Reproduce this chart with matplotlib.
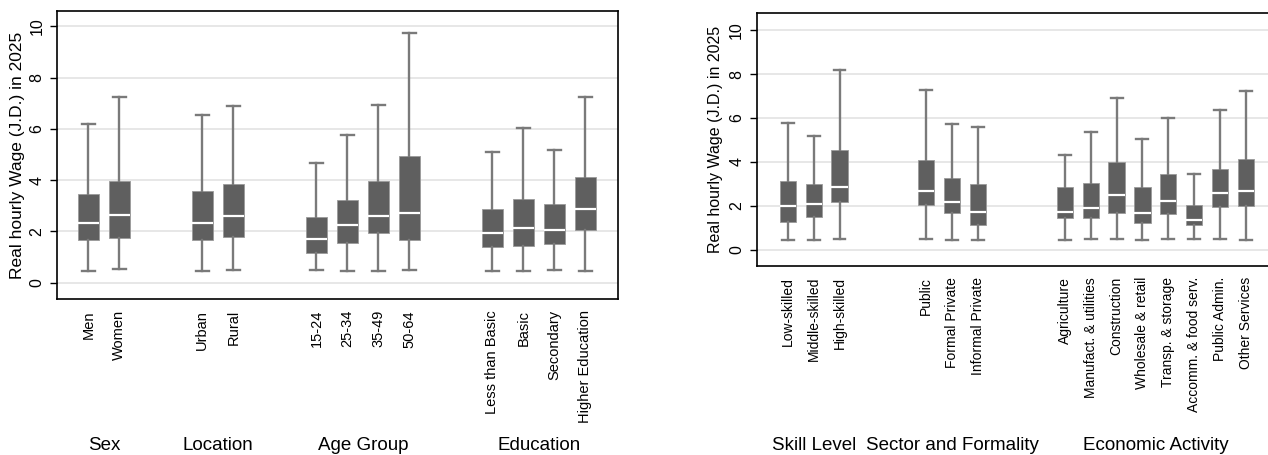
import numpy as np
import matplotlib
matplotlib.use('Agg')
import matplotlib.pyplot as plt
from matplotlib.transforms import blended_transform_factory

plt.rcParams['font.family'] = ['Liberation Sans', 'DejaVu Sans']

# ---- left panel data (whisker low, Q1, median, Q3, whisker high) ----
left_labels = ['Men', 'Women', 'Urban', 'Rural', '15-24', '25-34', '35-49', '50-64',
               'Less than Basic', 'Basic', 'Secondary', 'Higher Education']
left_groups = ['Sex', 'Location', 'Age Group', 'Education']
left_group_sizes = [2, 2, 4, 4]
left_lo = [0.45, 0.52, 0.45, 0.50, 0.50, 0.46, 0.46, 0.50, 0.46, 0.46, 0.50, 0.46]
left_q1 = [1.67, 1.73, 1.67, 1.77, 1.15, 1.54, 1.93, 1.68, 1.39, 1.42, 1.50, 2.06]
left_med = [2.32, 2.64, 2.32, 2.60, 1.69, 2.23, 2.60, 2.70, 1.93, 2.14, 2.06, 2.87]
left_q3 = [3.45, 3.95, 3.59, 3.84, 2.55, 3.24, 3.95, 4.95, 2.88, 3.28, 3.06, 4.14]
left_hi = [6.19, 7.25, 6.54, 6.91, 4.66, 5.77, 6.93, 9.73, 5.10, 6.05, 5.18, 7.25]

# ---- right panel data ----
right_labels = ['Low-skilled', 'Middle-skilled', 'High-skilled',
                'Public', 'Formal Private', 'Informal Private',
                'Agriculture', 'Manufact. & utilities', 'Construction', 'Wholesale & retail',
                'Transp. & storage', 'Accomm. & food serv.', 'Public Admin.', 'Other Services']
right_groups = ['Skill Level', 'Sector and Formality', 'Economic Activity']
right_group_sizes = [3, 3, 8]
right_lo = [0.45, 0.45, 0.48, 0.48, 0.45, 0.45, 0.44, 0.48, 0.48, 0.44, 0.48, 0.48, 0.48, 0.45]
right_q1 = [1.29, 1.50, 2.17, 2.03, 1.70, 1.15, 1.44, 1.44, 1.67, 1.23, 1.65, 1.12, 1.94, 2.01]
right_med = [2.01, 2.08, 2.88, 2.68, 2.18, 1.73, 1.73, 1.92, 2.48, 1.70, 2.21, 1.35, 2.61, 2.68]
right_q3 = [3.14, 3.00, 4.56, 4.11, 3.27, 2.98, 2.86, 3.06, 4.00, 2.86, 3.45, 2.03, 3.70, 4.14]
right_hi = [5.77, 5.20, 8.18, 7.29, 5.73, 5.59, 4.32, 5.38, 6.92, 5.05, 6.02, 3.45, 6.36, 7.23]


def positions(sizes, gap):
    pos, x = [], 0.0
    for s in sizes:
        for _ in range(s):
            pos.append(x)
            x += 1
        x += gap - 1
    return np.array(pos)


def draw(ax, labels, lo, q1, med, q3, hi, sizes, groups, gap, width, capw, fs, glabel_y, fig):
    pos = positions(sizes, gap)
    stats = [dict(whislo=a, q1=b, med=c, q3=d, whishi=e, fliers=[])
             for a, b, c, d, e in zip(lo, q1, med, q3, hi)]
    ax.bxp(stats, positions=pos, widths=width, capwidths=capw, patch_artist=True,
           showfliers=False,
           boxprops=dict(facecolor='#5f5f5f', edgecolor='#9a9a9a', linewidth=0.6),
           medianprops=dict(color='white', linewidth=1.6),
           whiskerprops=dict(color='#7a7a7a', linewidth=1.7),
           capprops=dict(color='#7a7a7a', linewidth=1.7))
    ax.set_xticks(pos)
    ax.set_xticklabels(labels, rotation=90, fontsize=fs, va='top')
    ax.tick_params(axis='x', length=0, pad=8)
    ax.set_yticks([0, 2, 4, 6, 8, 10])
    ax.set_yticklabels(['0', '2', '4', '6', '8', '10'], rotation=90, va='center', fontsize=11.5)
    ax.tick_params(axis='y', length=5, width=1, pad=4)
    ax.yaxis.grid(True, color='#e3e3e3', linewidth=1.2)
    ax.set_axisbelow(True)
    trans = blended_transform_factory(ax.transData, fig.transFigure)
    i = 0
    for g, s in zip(groups, sizes):
        c = pos[i:i + s].mean()
        ax.text(c, glabel_y, g, transform=trans, ha='center', va='center', fontsize=13.5)
        i += s
    return pos


fig = plt.figure(figsize=(12.68, 4.55), dpi=100)
W, H = 1268, 455

ax1 = fig.add_axes([57 / W, 1 - 299 / H, (618 - 57) / W, (299 - 11) / H])
draw(ax1, left_labels, left_lo, left_q1, left_med, left_q3, left_hi,
     left_group_sizes, left_groups, 2.68, 0.68, 0.41, 10.5, 1 - 445 / H, fig)
ax1.set_xlim(-1.01, 17.09)
ax1.set_ylim(-0.64, 10.6)
ax1.set_ylabel('Real hourly Wage (J.D.) in 2025', fontsize=12.5)
ax1.yaxis.set_label_coords(-0.057, 0.5)

ax2 = fig.add_axes([756.7 / W, 1 - 266 / H, (1268 - 756.7) / W, (266 - 13.3) / H])
draw(ax2, right_labels, right_lo, right_q1, right_med, right_q3, right_hi,
     right_group_sizes, right_groups, 3.35, 0.63, 0.46, 10, 1 - 445 / H, fig)
ax2.set_xlim(-1.2, 18.55)
ax2.set_ylim(-0.73, 10.76)
ax2.spines['right'].set_visible(False)
ax2.set_ylabel('Real hourly Wage (J.D.) in 2025', fontsize=11.5)
ax2.yaxis.set_label_coords(-0.066, 0.5)

for ax in (ax1, ax2):
    for sp in ax.spines.values():
        sp.set_linewidth(1.2)

fig.savefig('out.png', dpi=100)
